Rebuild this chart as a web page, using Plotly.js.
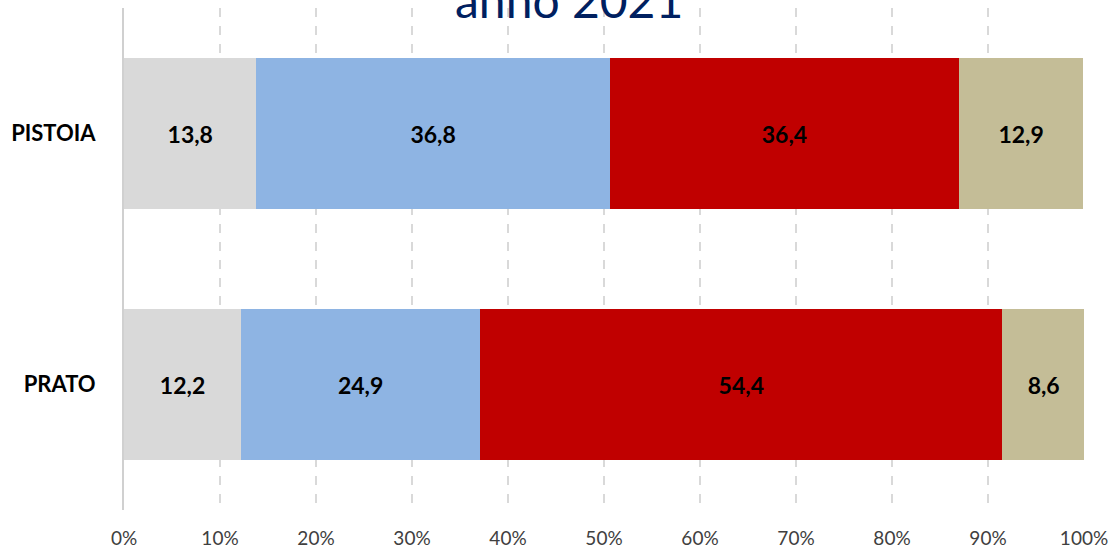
<!DOCTYPE html>
<html>
<head>
<meta charset="utf-8">
<script src="https://cdn.plot.ly/plotly-3.0.1.min.js"></script>
<style>html,body{margin:0;padding:0;background:#fff;}#chart{width:1115px;height:550px;}</style>
</head>
<body>
<div id="chart"></div>
<script>
const categories = ["PRATO", "PISTOIA"];
const seriesNames = ["S1", "S2", "S3", "S4"];
const seriesValues = [
  [12.2, 13.8],
  [24.9, 36.8],
  [54.4, 36.4],
  [8.6, 12.9]
];
const seriesColors = ["#D9D9D9", "#8EB4E3", "#C00000", "#C4BD97"];
const tickValues = [0, 10, 20, 30, 40, 50, 60, 70, 80, 90, 100];
const tickLabels = ["0%", "10%", "20%", "30%", "40%", "50%", "60%", "70%", "80%", "90%", "100%"];
const titleText = "anno 2021";

const FONT = "Lato, 'Open Sans', sans-serif";
const traces = seriesValues.map((vals, i) => ({
  type: "bar",
  orientation: "h",
  name: seriesNames[i],
  y: categories,
  x: vals,
  marker: {color: seriesColors[i], line: {width: 0}},
  texttemplate: "<b>%{x:.1f}</b>",
  textposition: "inside",
  insidetextanchor: "middle",
  constraintext: "none",
  textfont: {family: FONT, size: 23, color: "#000000"},
  hoverinfo: "none"
}));

const layout = {
  width: 1115, height: 550,
  margin: {l: 124, r: 31, t: 8, b: 40},
  paper_bgcolor: "#ffffff", plot_bgcolor: "#ffffff",
  barmode: "stack",
  bargap: 0.4,
  separators: ",.",
  showlegend: false,
  font: {family: FONT},
  xaxis: {
    range: [0, 100],
    tickvals: tickValues,
    ticktext: tickLabels,
    tickfont: {family: FONT, size: 19, color: "#404040"},
    showgrid: true,
    gridcolor: "#D9D9D9",
    gridwidth: 2,
    griddash: "dash",
    zeroline: false,
    showline: false,
    ticks: "",
    ticklabelstandoff: 15,
    fixedrange: true
  },
  yaxis: {
    range: [-0.5, 1.5],
    tickfont: {family: FONT, size: 22, color: "#000000", weight: "bold"},
    showline: true,
    linecolor: "#D0D0D0",
    linewidth: 2,
    showgrid: false,
    zeroline: false,
    ticks: "",
    ticklabelstandoff: 22,
    fixedrange: true
  },
  annotations: [{
    text: titleText,
    xref: "paper", yref: "paper",
    x: 0.4635, y: 1,
    xanchor: "center", yanchor: "bottom",
    yshift: -22,
    showarrow: false,
    font: {family: FONT, size: 48, color: "#002060"}
  }]
};

Plotly.newPlot("chart", traces, layout, {displayModeBar: false, staticPlot: true});
</script>
</body>
</html>
